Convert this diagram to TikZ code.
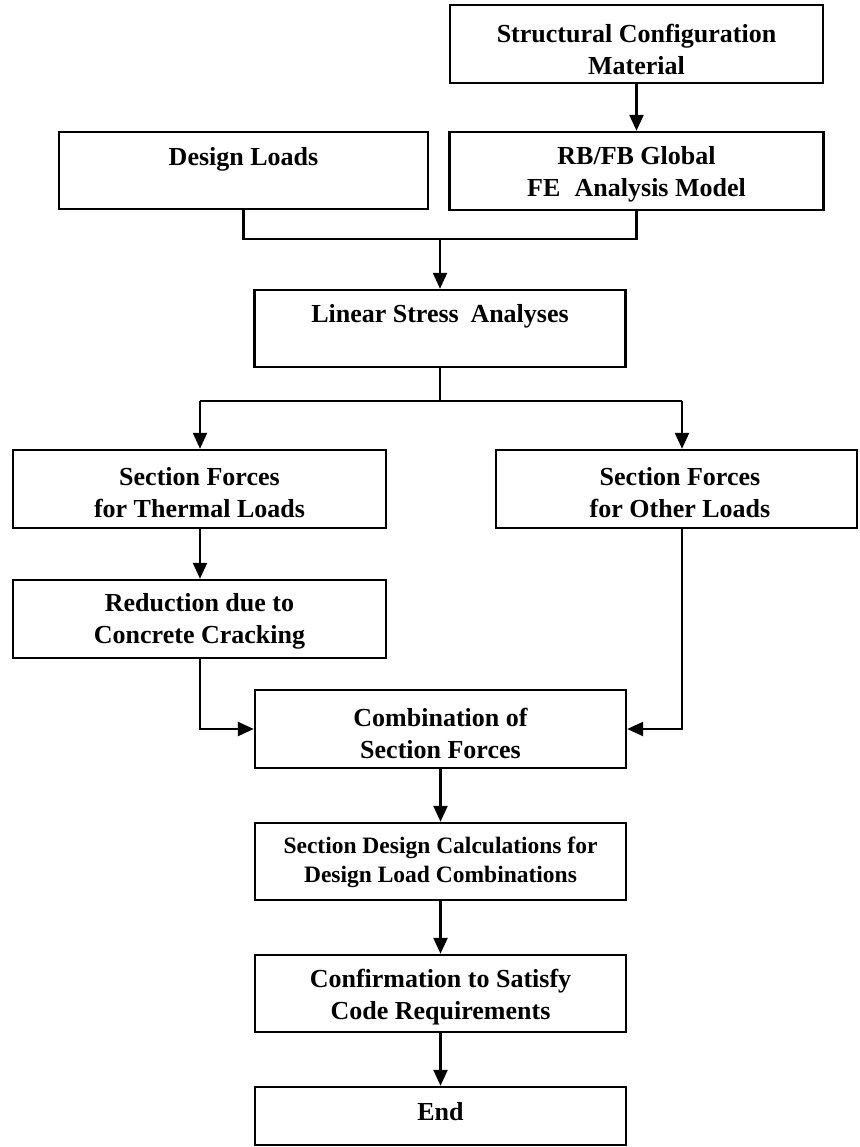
\documentclass[tikz,border=0pt]{standalone}
\usepackage{fontspec}
\setmainfont{Liberation Serif}
\usetikzlibrary{arrows.meta,calc}
\begin{document}
\begin{tikzpicture}[x=1pt,y=-1pt,
  box/.style={draw, line width=2.4pt, rectangle, inner sep=0pt, minimum height=78pt},
  lbl/.style={font=\bfseries\fontsize{26}{32}\selectfont, align=center, inner sep=0pt},
  lblsmall/.style={font=\bfseries\fontsize{23.5}{29}\selectfont, align=center, inner sep=0pt},
  conn/.style={line width=2.4pt},
  arr/.style={line width=2.4pt, -{Triangle[length=16pt,width=14pt]}}
]
\useasboundingbox (0,0) rectangle (859,1147);

% boxes
\node[box, minimum width=373pt] (sc) at (636.5,44) {};
\node[box, minimum width=374pt] (rb) at (636.5,171) {};
\node[box, minimum width=369pt, minimum height=77pt] (dl) at (243.5,170.5) {};
\node[box, minimum width=371pt, minimum height=77pt] (lsa) at (440,328.5) {};
\node[box, minimum width=373pt] (th) at (199.5,489) {};
\node[box, minimum width=361pt] (ot) at (676.5,489) {};
\node[box, minimum width=373pt] (rd) at (199.5,619) {};
\node[box, minimum width=371pt] (cb) at (440.5,729) {};
\node[box, minimum width=371pt, minimum height=77pt] (sd) at (440.5,861.5) {};
\node[box, minimum width=371pt, minimum height=77pt] (cf) at (440.5,993.5) {};
\node[box, minimum width=371pt, minimum height=58pt] (en) at (440.5,1116) {};

% texts
\node[lbl] (sct) at (636.5,49) {Structural Configuration\\Material};
\node[lbl] (rbt) at (636.5,174) {RB/FB Global\\FE\hspace{0.55em}Analysis Model};
\node[lbl] (dlt) at (243.5,159) {Design Loads};
\node[lbl] (lsat) at (440,316) {Linear Stress\hspace{0.45em}Analyses};
\node[lbl] (tht) at (199.5,493) {Section Forces\\for Thermal Loads};
\node[lbl] (ott) at (680,493) {Section Forces\\for Other Loads};
\node[lbl] (rdt) at (199.5,621) {Reduction due to\\Concrete Cracking};
\node[lbl] (cbt) at (440.5,733) {Combination of\\Section Forces};
\node[lblsmall] (sdt) at (440.5,862) {Section Design Calculations for\\Design Load Combinations};
\node[lbl] (cft) at (440.5,997) {Confirmation to Satisfy\\Code Requirements};
\node[lbl] (ent) at (440.5,1112) {End};

% junction coordinates
\coordinate (m1) at (440,239);
\coordinate (m2) at (440,401);
\coordinate (m3) at (682,401);
\coordinate (m4) at (200,401);

% connectors
\draw[arr] (sc.south) -- (rb.north);
\draw[conn] (dl.south) |- (m1) -| (rb.south);
\draw[arr] (m1) -- (lsa.north);
\draw[conn] (lsa.south) -- (m2);
\draw[conn] (m4) -- (m3);
\draw[arr] (m4) -- (th.north -| m4);
\draw[arr] (m3) -- (ot.north -| m3);
\draw[arr] (th.south -| m4) -- (rd.north -| m4);
\draw[arr] (rd.south -| m4) |- (cb.west);
\draw[arr] (ot.south -| m3) |- (cb.east);
\draw[arr] (cb.south) -- (sd.north);
\draw[arr] (sd.south) -- (cf.north);
\draw[arr] (cf.south) -- (en.north);
\end{tikzpicture}
\end{document}
